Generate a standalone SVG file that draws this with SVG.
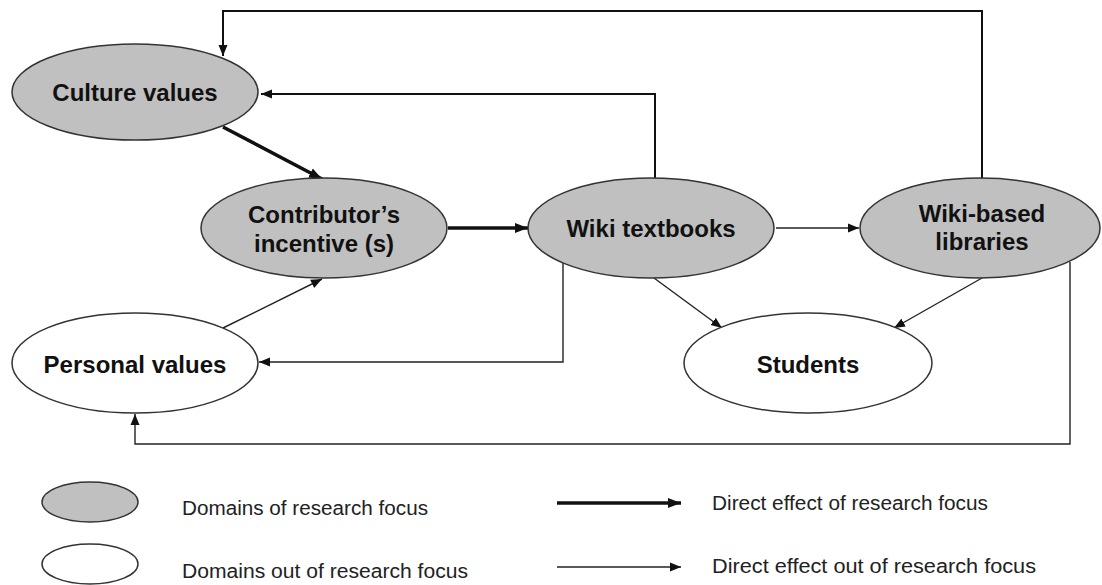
<svg xmlns="http://www.w3.org/2000/svg" width="1102" height="585" viewBox="0 0 1102 585">
<style>
.focus{fill:#c0c0c0;stroke:#333;stroke-width:1.5}
.out{fill:#fff;stroke:#333;stroke-width:1.5}
.lbl{font-family:"Liberation Sans",Arial,sans-serif;font-weight:bold;font-size:24px;fill:#111;text-anchor:middle}
.leg{font-family:"Liberation Sans",Arial,sans-serif;font-size:20px;fill:#222}
.thick{fill:none;stroke:#111;stroke-width:3.5}
.thin{fill:none;stroke:#222;stroke-width:1.4}
.mid{fill:none;stroke:#111;stroke-width:2}
</style>
<defs>
<marker id="ah" markerUnits="userSpaceOnUse" markerWidth="14" markerHeight="12" refX="13" refY="6" orient="auto"><path d="M0,1 L13,6 L0,11 Z" fill="#111"/></marker>
<marker id="as" markerUnits="userSpaceOnUse" markerWidth="12" markerHeight="10" refX="11" refY="5" orient="auto"><path d="M0,0.5 L11,5 L0,9.5 Z" fill="#111"/></marker>
</defs>
<rect width="1102" height="585" fill="#fff"/>
<g id="connectors">
<path class="mid" d="M982,178 V11 H223 V56" marker-end="url(#as)"/>
<path class="mid" d="M655,178 V94 H261" marker-end="url(#as)"/>
<path class="thick" d="M223,127 L322,179" marker-end="url(#ah)"/>
<path class="thick" d="M448,228 H528" marker-end="url(#ah)"/>
<path class="thin" d="M776,228 H859" marker-end="url(#as)"/>
<path class="thin" d="M654,278 L722,328" marker-end="url(#as)"/>
<path class="thin" d="M982,278 L894,328" marker-end="url(#as)"/>
<path class="thin" d="M563,263 V362 H259" marker-end="url(#as)"/>
<path class="thin" d="M1070,262 V444 H135 V414" marker-end="url(#as)"/>
<path class="thin" d="M223,328 L322,279" marker-end="url(#as)"/>
</g>
<g id="culture-values">
<ellipse class="focus" cx="135" cy="92" rx="123" ry="48"/>
<text class="lbl" x="135" y="101">Culture values</text>
</g>
<g id="contributors-incentive">
<ellipse class="focus" cx="324" cy="228" rx="123" ry="50"/>
<text class="lbl" x="324" y="223">Contributor’s</text>
<text class="lbl" x="324" y="252">incentive (s)</text>
</g>
<g id="wiki-textbooks">
<ellipse class="focus" cx="651" cy="228" rx="123" ry="50"/>
<text class="lbl" x="651" y="237">Wiki textbooks</text>
</g>
<g id="wiki-based-libraries">
<ellipse class="focus" cx="980" cy="228" rx="120" ry="50"/>
<text class="lbl" x="982" y="222">Wiki-based</text>
<text class="lbl" x="982" y="250">libraries</text>
</g>
<g id="personal-values">
<ellipse class="out" cx="135" cy="363" rx="123" ry="50"/>
<text class="lbl" x="135" y="373">Personal values</text>
</g>
<g id="students">
<ellipse class="out" cx="808" cy="363" rx="124" ry="50"/>
<text class="lbl" x="808" y="373">Students</text>
</g>
<g id="legend">
<ellipse class="focus" cx="90" cy="502" rx="48" ry="20"/>
<text class="leg" x="182" y="515" textLength="246" lengthAdjust="spacingAndGlyphs">Domains of research focus</text>
<ellipse class="out" cx="90" cy="564" rx="48" ry="20"/>
<text class="leg" x="182" y="578" textLength="286" lengthAdjust="spacingAndGlyphs">Domains out of research focus</text>
<path class="thick" d="M557,503 H681" marker-end="url(#ah)"/>
<text class="leg" x="712" y="510" textLength="276" lengthAdjust="spacingAndGlyphs">Direct effect of research focus</text>
<path class="thin" d="M557,567 H681" marker-end="url(#as)"/>
<text class="leg" x="712" y="573" textLength="324" lengthAdjust="spacingAndGlyphs">Direct effect out of research focus</text>
</g>
</svg>
